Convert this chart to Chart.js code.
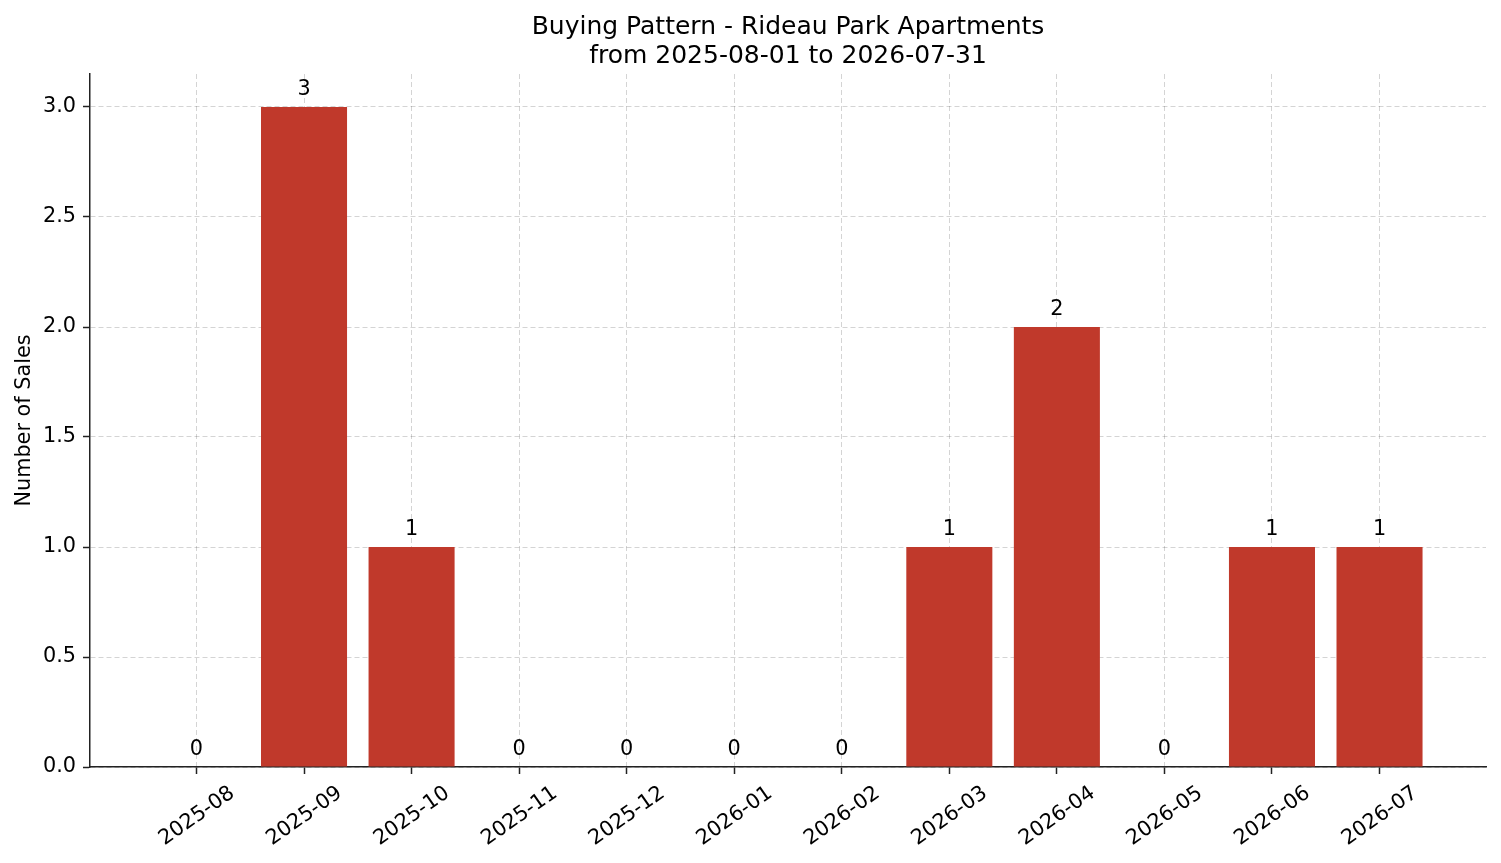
<!DOCTYPE html>
<html>
<head>
<meta charset="utf-8">
<script src="https://cdn.jsdelivr.net/npm/chart.js@4/dist/chart.umd.min.js"></script>
<style>
  html, body { margin: 0; padding: 0; background: #fff; }
  #wrap { width: 1501px; height: 863px; }
</style>
</head>
<body>
<div id="wrap"><canvas id="myChart" width="1501" height="863"></canvas></div>
<script>
var months = ['2025-08', '2025-09', '2025-10', '2025-11', '2025-12', '2026-01',
              '2026-02', '2026-03', '2026-04', '2026-05', '2026-06', '2026-07'];
var sales = [0, 3, 1, 0, 0, 0, 0, 1, 2, 0, 1, 1];
var yTicks = [0, 0.5, 1.0, 1.5, 2.0, 2.5, 3.0];
var titleLines = ['Buying Pattern - Rideau Park Apartments', 'from 2025-08-01 to 2026-07-31'];

var font = "'DejaVu Sans', sans-serif";

var punkty = [];
for (let i = 0; i < sales.length; i++) {
    punkty.push({x: i, y: sales[i]});
}

// napisy z wartoscia nad slupkami
var etykiety = {
    id: 'etykiety',
    afterDatasetsDraw: function(chart) {
        var ctx = chart.ctx;
        var meta = chart.getDatasetMeta(0);
        ctx.save();
        ctx.font = '20.8px ' + font;
        ctx.fillStyle = '#000';
        ctx.textAlign = 'center';
        ctx.textBaseline = 'bottom';
        meta.data.forEach(function(bar, i) {
            ctx.fillText(String(sales[i]), bar.x, bar.y - 7);
        });
        ctx.restore();
    }
};

var ctx = document.getElementById('myChart');

var myChart = new Chart(ctx, {
    type: 'bar',
    data: {
        datasets: [{
            label: 'Sales',
            data: punkty,
            backgroundColor: '#c0392b',
            borderWidth: 0,
            barPercentage: 0.8,
            categoryPercentage: 1.0
        }]
    },
    options: {
        responsive: false,
        devicePixelRatio: 1,
        animation: false,
        layout: {
            padding: {left: 0, right: 15, top: 0, bottom: 0}
        },
        plugins: {
            legend: {display: false},
            tooltip: {enabled: false},
            title: {
                display: true,
                fullSize: false,
                text: titleLines,
                color: '#000',
                font: {family: font, size: 25, weight: 'normal', lineHeight: 1.16},
                padding: {top: 13, bottom: 3}
            }
        },
        scales: {
            x: {
                type: 'linear',
                min: -0.99,
                max: 11.99,
                offset: false,
                z: 1,
                afterBuildTicks: function(scale) {
                    scale.ticks = months.map(function(m, i) { return {value: i}; });
                },
                afterFit: function(scale) { scale.height = 96; },
                ticks: {
                    callback: function(v) { return months[v]; },
                    minRotation: 35,
                    maxRotation: 35,
                    labelOffset: 36,
                    padding: 7,
                    color: '#000',
                    font: {family: font, size: 20.8}
                },
                grid: {
                    offset: false,
                    color: 'rgba(0,0,0,0.17)',
                    lineWidth: 1,
                    tickLength: 7,
                    tickColor: '#222',
                    tickWidth: 1.5,
                    tickBorderDash: []
                },
                border: {display: true, color: '#222', width: 1.5, dash: [5, 3]}
            },
            y: {
                min: 0,
                max: 3.15,
                z: 1,
                afterBuildTicks: function(scale) {
                    scale.ticks = yTicks.map(function(v) { return {value: v}; });
                },
                afterFit: function(scale) { scale.width = 90; },
                ticks: {
                    callback: function(v) { return v.toFixed(1); },
                    padding: 7,
                    color: '#000',
                    font: {family: font, size: 20.8}
                },
                title: {
                    display: true,
                    text: 'Number of Sales',
                    color: '#000',
                    font: {family: font, size: 20.8},
                    padding: {top: 12, bottom: 0}
                },
                grid: {
                    color: 'rgba(0,0,0,0.17)',
                    lineWidth: 1,
                    tickLength: 7,
                    tickColor: '#222',
                    tickWidth: 1.5,
                    tickBorderDash: []
                },
                border: {display: true, color: '#222', width: 1.5, dash: [5, 3]}
            }
        }
    },
    plugins: [etykiety]
});
</script>
</body>
</html>
